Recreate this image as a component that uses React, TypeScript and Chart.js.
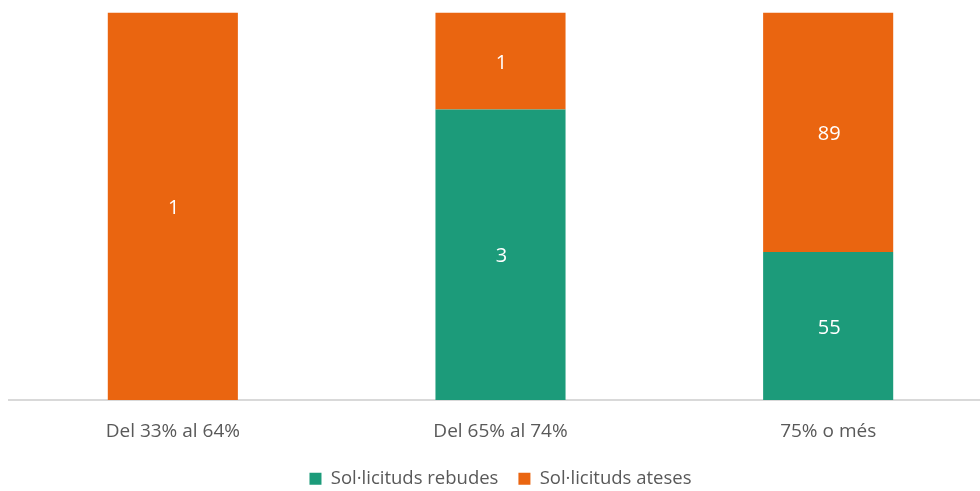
import React, { useEffect, useRef } from "react";
import { Chart, registerables } from "chart.js";

Chart.register(...registerables);

const categories = ["Del 33% al 64%", "Del 65% al 74%", "75% o més"];
const seriesNames = ["Sol·licituds rebudes", "Sol·licituds ateses"];
const rebudes = [0, 3, 55];
const ateses = [1, 1, 89];
const colors = ["#1C9B7A", "#EA6510"];

const totals = categories.map((_, i) => rebudes[i] + ateses[i]);
const pct = (arr: number[]) => arr.map((v, i) => (totals[i] ? (v / totals[i]) * 100 : 0));

const FONT = "'Open Sans', 'Noto Sans', sans-serif";

const valueLabels = {
  id: "valueLabels",
  afterDatasetsDraw(chart: any) {
    const ctx = chart.ctx;
    const raws = [rebudes, ateses];
    ctx.save();
    ctx.fillStyle = "#ffffff";
    ctx.font = `20px ${FONT}`;
    ctx.textAlign = "center";
    ctx.textBaseline = "middle";
    chart.data.datasets.forEach((ds: any, di: number) => {
      const meta = chart.getDatasetMeta(di);
      meta.data.forEach((bar: any, i: number) => {
        const v = raws[di][i];
        if (!v) return;
        const y = (bar.y + bar.base) / 2 + 2;
        ctx.fillText(String(v), bar.x + 1, y);
      });
    });
    ctx.restore();
  },
};

export default function App() {
  const ref = useRef<HTMLCanvasElement>(null);
  useEffect(() => {
    document.body.style.margin = "0";
    document.body.style.overflow = "hidden";
    const chart = new Chart(ref.current as HTMLCanvasElement, {
      type: "bar",
      data: {
        labels: categories,
        datasets: [
          { label: seriesNames[0], data: pct(rebudes), backgroundColor: colors[0] },
          { label: seriesNames[1], data: pct(ateses), backgroundColor: colors[1] },
        ],
      },
      options: {
        animation: false,
        responsive: false,
        maintainAspectRatio: false,
        datasets: { bar: { categoryPercentage: 1, barPercentage: 0.397 } },
        layout: { padding: { left: 9, right: 8, top: 12.5, bottom: 0 } },
        scales: {
          x: {
            stacked: true,
            grid: { display: false, drawTicks: false },
            border: { color: "#d9d9d9", width: 2 },
            ticks: { color: "#595959", font: { family: FONT, size: 19 }, padding: 20 },
            afterFit: (s: any) => {
              s.height = 49.5;
            },
          },
          y: { stacked: true, display: false, min: 0, max: 100 },
        },
        plugins: {
          legend: {
            position: "bottom",
            labels: {
              color: "#595959",
              font: { family: FONT, size: 18.5 },
              boxWidth: 12,
              boxHeight: 12,
              padding: 20,
            },
          },
          tooltip: { enabled: false },
        },
      },
      plugins: [valueLabels],
    });
    return () => chart.destroy();
  }, []);
  return (
    <div style={{ width: 980, height: 491, overflow: "hidden", background: "#fff" }}>
      <canvas ref={ref} width={1000} height={498} style={{ display: "block" }} />
    </div>
  );
}
